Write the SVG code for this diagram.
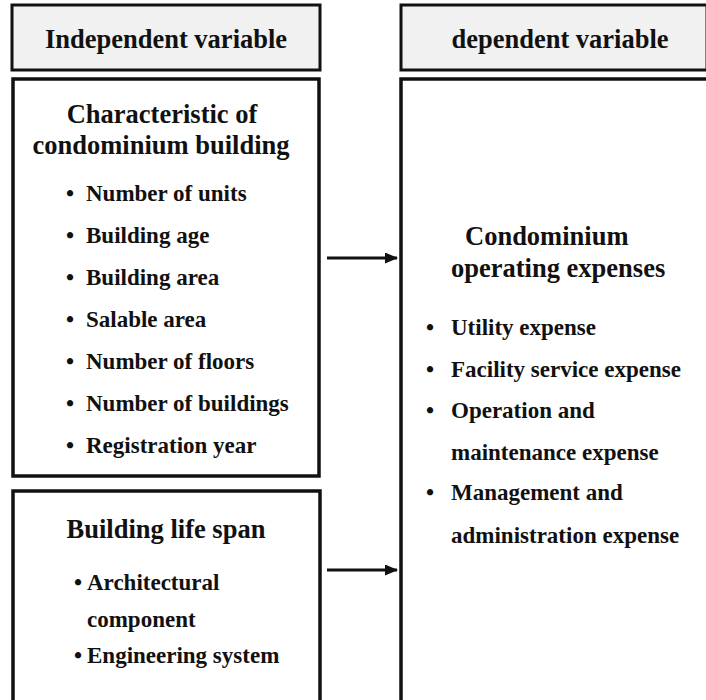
<svg xmlns="http://www.w3.org/2000/svg" width="706" height="700" viewBox="0 0 706 700">
<style>
.hdr{fill:#f1f1f1;stroke:#111;stroke-width:3}
.box{fill:#fff;stroke:#111;stroke-width:3.5}
text{font-family:"Liberation Serif","Times New Roman",serif;font-weight:bold;fill:#111}
.h{font-size:26.5px;text-anchor:middle}
.t{font-size:26.5px}
.tm{text-anchor:middle}
.b{font-size:23px}
.c{stroke:#111;stroke-width:3;fill:none}
</style>
<defs>
<marker id="ah" markerWidth="13" markerHeight="11" refX="12" refY="5.5" orient="auto" markerUnits="userSpaceOnUse" viewBox="0 0 13 11">
<path d="M0,0 L13,5.5 L0,11 z" fill="#111"/>
</marker>
</defs>
<rect width="706" height="700" fill="#fff"/>
<g id="hdr-independent">
<rect class="hdr" x="12" y="5" width="308" height="65"/>
<text class="h" x="166" y="48">Independent variable</text>
</g>
<g id="hdr-dependent">
<rect class="hdr" x="401" y="5" width="306" height="65"/>
<text class="h" x="560" y="48">dependent variable</text>
</g>
<g id="characteristic">
<rect class="box" x="13" y="79" width="306" height="397"/>
<text class="t tm" x="162" y="123">Characteristic of</text>
<text class="t tm" x="161" y="154">condominium building</text>
<text class="b" x="66" y="201">•<tspan x="86">Number of units</tspan></text>
<text class="b" x="66" y="243">•<tspan x="86">Building age</tspan></text>
<text class="b" x="66" y="285">•<tspan x="86">Building area</tspan></text>
<text class="b" x="66" y="327">•<tspan x="86">Salable area</tspan></text>
<text class="b" x="66" y="369">•<tspan x="86">Number of floors</tspan></text>
<text class="b" x="66" y="411">•<tspan x="86">Number of buildings</tspan></text>
<text class="b" x="66" y="453">•<tspan x="86">Registration year</tspan></text>
</g>
<g id="lifespan">
<path class="box" d="M13,702 V491 H320 V702"/>
<text class="t tm" x="166" y="538">Building life span</text>
<text class="b" x="74" y="590">•<tspan x="87">Architectural</tspan></text>
<text class="b" x="87" y="627">component</text>
<text class="b" x="74" y="663">•<tspan x="87">Engineering system</tspan></text>
</g>
<g id="expenses">
<path class="box" d="M401,702 V79 H707"/>
<text class="t" x="465" y="245">Condominium</text>
<text class="t" x="451" y="277">operating expenses</text>
<text class="b" x="426" y="335">•<tspan x="451">Utility expense</tspan></text>
<text class="b" x="426" y="377">•<tspan x="451">Facility service expense</tspan></text>
<text class="b" x="426" y="418">•<tspan x="451">Operation and</tspan></text>
<text class="b" x="451" y="460">maintenance expense</text>
<text class="b" x="426" y="500">•<tspan x="451">Management and</tspan></text>
<text class="b" x="451" y="543">administration expense</text>
</g>
<g id="connectors">
<line class="c" x1="327" y1="258" x2="397" y2="258" marker-end="url(#ah)"/>
<line class="c" x1="327" y1="570" x2="397" y2="570" marker-end="url(#ah)"/>
</g>
</svg>
